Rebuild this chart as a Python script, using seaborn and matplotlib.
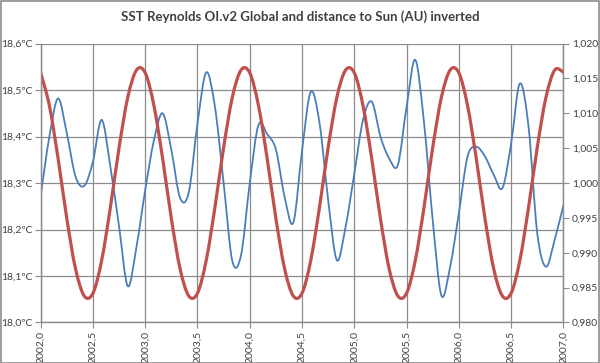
"""SST Reynolds OI.v2 global vs inverted Earth-Sun distance, monthly 2002-2007."""

import numpy as np
import pandas as pd
import seaborn as sns
import matplotlib
matplotlib.use("Agg")
import matplotlib.pyplot as plt
from matplotlib.patches import Rectangle, PathPatch
from matplotlib.path import Path

# monthly points, 2002.0 .. 2007.0 (61 months)
months = np.arange(61)
sst = [18.273, 18.400, 18.482, 18.407, 18.314, 18.294, 18.346, 18.436, 18.335, 18.206,
       18.078, 18.163, 18.285, 18.392, 18.450, 18.371, 18.268, 18.280, 18.428, 18.538,
       18.464, 18.300, 18.132, 18.145, 18.300, 18.425, 18.405, 18.372, 18.270, 18.215,
       18.370, 18.496, 18.430, 18.263, 18.134, 18.206, 18.320, 18.436, 18.475, 18.400,
       18.353, 18.339, 18.464, 18.565, 18.430, 18.220, 18.058, 18.120, 18.235, 18.357,
       18.378, 18.357, 18.318, 18.289, 18.385, 18.514, 18.421, 18.192, 18.120, 18.178,
       18.252]
dist_inv = [1.0158, 1.0111, 1.0035, 0.9949, 0.9877, 0.9838, 0.9842, 0.9889, 0.9965, 1.0051,
            1.0123, 1.0162, 1.0158, 1.0111, 1.0035, 0.9949, 0.9877, 0.9838, 0.9842, 0.9889,
            0.9965, 1.0051, 1.0123, 1.0162, 1.0158, 1.0111, 1.0035, 0.9949, 0.9877, 0.9838,
            0.9842, 0.9889, 0.9965, 1.0051, 1.0123, 1.0162, 1.0158, 1.0111, 1.0035, 0.9949,
            0.9877, 0.9838, 0.9842, 0.9889, 0.9965, 1.0051, 1.0123, 1.0162, 1.0158, 1.0111,
            1.0035, 0.9949, 0.9877, 0.9838, 0.9842, 0.9889, 0.9965, 1.0051, 1.0123, 1.0162,
            1.0159]
x_ticks = [2002.0, 2002.5, 2003.0, 2003.5, 2004.0, 2004.5, 2005.0, 2005.5, 2006.0, 2006.5, 2007.0]
left_ticks = [18.0, 18.1, 18.2, 18.3, 18.4, 18.5, 18.6]
right_ticks = [0.980, 0.985, 0.990, 0.995, 1.000, 1.005, 1.010, 1.015, 1.020]

df = pd.DataFrame({"year": 2002 + months / 12, "sst": sst, "dist": dist_inv})


def smooth_line(a, line):
    # draw the seaborn line as an Excel-style smoothed curve (bezier through its vertices)
    p = line.get_xydata()
    verts = [p[0]]
    codes = [Path.MOVETO]
    n = len(p)
    for i in range(n - 1):
        p0 = p[max(i - 1, 0)]
        p1, p2 = p[i], p[i + 1]
        p3 = p[min(i + 2, n - 1)]
        verts += [p1 + (p2 - p0) / 6, p2 - (p3 - p1) / 6, p2]
        codes += [Path.CURVE4] * 3
    a.add_patch(PathPatch(Path(verts, codes), fill=False, edgecolor=line.get_color(),
                          lw=line.get_linewidth(), capstyle="round", joinstyle="round",
                          zorder=line.get_zorder()))
    line.set_visible(False)


sns.set_style("white")
plt.rcParams["font.family"] = ["Lato", "DejaVu Sans"]

grid_c = "#8c8c8c"
text_c = "#404040"

fig = plt.figure(figsize=(6, 3.63), dpi=100)
ax = fig.add_axes([0.0678, 0.1116, 0.8712, 0.7684])
ax2 = ax.twinx()

# frame around whole chart
fig.patches.append(Rectangle((0.001, 0.001), 0.997, 0.996, transform=fig.transFigure,
                             fill=False, edgecolor="#8c8c8c", lw=1.2))

sns.lineplot(data=df, x="year", y="sst", ax=ax, color="#4a7ebb", lw=1.3)
sns.lineplot(data=df, x="year", y="dist", ax=ax2, color="#c0504d", lw=2.3)
smooth_line(ax, ax.lines[0])
smooth_line(ax2, ax2.lines[0])

ax.set_xlim(2002, 2007)
ax.set_ylim(18.0, 18.6)
ax2.set_ylim(0.98, 1.02)

ax.set_xticks(x_ticks)
ax.set_xticklabels([f"{v:.1f}".replace(".", ",") for v in x_ticks], rotation=90)
ax.set_yticks(left_ticks)
ax.set_yticklabels([f"{v:.1f}".replace(".", ",") + "ºC" for v in left_ticks])
ax2.set_yticks(right_ticks)
ax2.set_yticklabels([f"{v:.3f}".replace(".", ",") for v in right_ticks])

ax.grid(True, color=grid_c, lw=0.9)
ax.set_xlabel("")
ax.set_ylabel("")
ax2.set_ylabel("")

for a in (ax, ax2):
    a.tick_params(direction="out", length=4, width=0.8, color=grid_c,
                  labelsize=7.5, labelcolor=text_c, pad=2)
    for side in ("left", "right", "bottom"):
        a.spines[side].set_color(grid_c)
        a.spines[side].set_linewidth(0.9)
    a.spines["top"].set_visible(False)
ax.tick_params(axis="y", left=True, right=False)
ax.tick_params(axis="x", bottom=True)
ax2.tick_params(axis="y", right=True)

fig.text(0.5, 0.955, "SST Reynolds OI.v2 Global and distance to Sun (AU) inverted",
         ha="center", va="center", fontsize=9.5, fontweight="bold", color=text_c)

fig.savefig("out.png", dpi=100)
